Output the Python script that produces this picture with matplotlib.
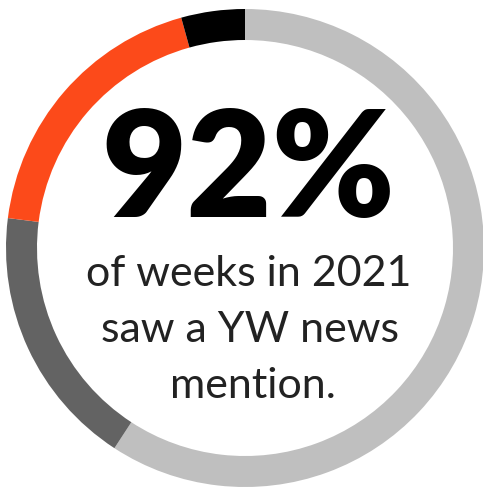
import matplotlib
matplotlib.use("Agg")
import matplotlib.pyplot as plt

# ring segments (share of the circle, clockwise from 12 o'clock)
segments = ["mention", "segment_b", "segment_c", "no_mention"]
shares = [59.2, 17.8, 18.7, 4.3]
colors = ["#bfbfbf", "#636363", "#fc4a1a", "#000000"]

big_number = "92%"
caption = ["of weeks in 2021", "saw a YW news", "mention."]

W, H = 483, 487
fig = plt.figure(figsize=(W / 100, H / 100), dpi=100)
ax = fig.add_axes([0, 0, 1, 1])

cx, cy = 245, H - 248
ax.pie(shares, colors=colors, startangle=90, counterclock=False,
       center=(cx, cy), radius=239,
       wedgeprops=dict(width=31, linewidth=0))

ax.set_xlim(0, W)
ax.set_ylim(0, H)
ax.set_aspect("equal")
ax.axis("off")

ax.text(248, H - 217, big_number, ha="center", va="baseline",
        fontsize=106, fontweight="heavy", family="Lato", color="black")

baselines = [286, 342, 398]
xs = [249, 250, 253]
for txt, b, x in zip(caption, baselines, xs):
    ax.text(x, H - b, txt, ha="center", va="baseline",
            fontsize=31, family="Lato", color="#222222")

fig.savefig("out.png", dpi=100)
